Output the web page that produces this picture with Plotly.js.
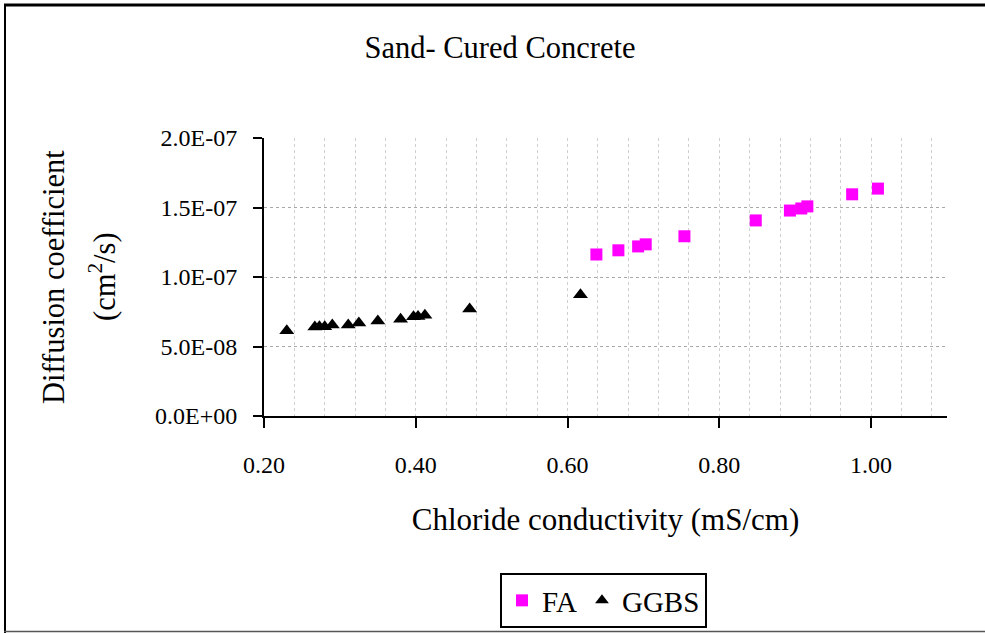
<!DOCTYPE html>
<html>
<head>
<meta charset="utf-8">
<script src="https://cdn.plot.ly/plotly-3.0.1.min.js"></script>
<style>
  html, body { margin: 0; padding: 0; background: #ffffff; }
  #chart { width: 985px; height: 633px; }
</style>
</head>
<body>
<div id="chart"></div>
<script>
// ---- Data ----
const faX   = [0.638, 0.667, 0.693, 0.703, 0.754, 0.848, 0.893, 0.908, 0.916, 0.975, 1.009];
const faY   = [1.162e-7, 1.192e-7, 1.220e-7, 1.235e-7, 1.293e-7, 1.407e-7, 1.478e-7, 1.493e-7, 1.508e-7, 1.595e-7, 1.636e-7];

const ggbsX = [0.230, 0.267, 0.273, 0.280, 0.290, 0.311, 0.325, 0.350, 0.380, 0.397, 0.403, 0.412, 0.471, 0.617];
const ggbsY = [6.13e-8, 6.40e-8, 6.42e-8, 6.42e-8, 6.54e-8, 6.54e-8, 6.69e-8, 6.83e-8, 6.96e-8, 7.14e-8, 7.15e-8, 7.25e-8, 7.70e-8, 8.72e-8];

const seriesNames = ["FA", "GGBS"];

const xTickVals = [0.2, 0.4, 0.6, 0.8, 1.0];
const xTickText = ["0.20", "0.40", "0.60", "0.80", "1.00"];
const yTickVals = [0, 5e-8, 1e-7, 1.5e-7, 2e-7];
const yTickText = ["0.0E+00", "5.0E-08", "1.0E-07", "1.5E-07", "2.0E-07"];

const chartTitle = "Sand- Cured Concrete";
const xTitle = "Chloride conductivity (mS/cm)";
const yTitleLine1 = "Diffusion coefficient";
const yTitleLine2 = "(cm<sup>2</sup>/s)";

// ---- Layout geometry ----
const W = 985, H = 633;
const M = { l: 264, r: 38, t: 138, b: 217 };
const plotW = W - M.l - M.r, plotH = H - M.t - M.b;
const px2x = p => (p - M.l) / plotW;
const py2y = p => (H - M.b - p) / plotH;

const FONT = "'Liberation Serif', 'DejaVu Serif', serif";

const traces = [
  {
    type: "scatter", mode: "markers", name: seriesNames[0],
    x: faX, y: faY,
    marker: { symbol: "square", size: 12, color: "#ff00ff" }
  },
  {
    type: "scatter", mode: "markers", name: seriesNames[1],
    x: ggbsX, y: ggbsY,
    marker: { symbol: "triangle-up", size: 13, color: "#000000" }
  }
];

const layout = {
  width: W, height: H,
  margin: M,
  paper_bgcolor: "#ffffff",
  plot_bgcolor: "#ffffff",
  font: { family: FONT, color: "#000000", size: 24 },
  showlegend: true,
  title: {
    text: chartTitle,
    font: { family: FONT, size: 30.5, color: "#000000" },
    x: 500 / W, xanchor: "center", xref: "container",
    y: 1 - 47 / H, yanchor: "middle", yref: "container"
  },
  xaxis: {
    range: [0.2, 1.1],
    tickmode: "array", tickvals: xTickVals, ticktext: xTickText,
    ticks: "outside", ticklen: 10, tickwidth: 2, tickcolor: "#000000",
    ticklabelstandoff: 16,
    tickfont: { family: FONT, size: 24, color: "#000000" },
    showline: true, linecolor: "#000000", linewidth: 2,
    showgrid: true, gridcolor: "#cfcfcf", gridwidth: 1, griddash: "dot",
    minor: { tick0: 0.2, dtick: 0.04, showgrid: true, gridcolor: "#cfcfcf", gridwidth: 1, griddash: "dot", ticks: "" },
    zeroline: false,
    title: { text: xTitle, font: { family: FONT, size: 31, color: "#000000" }, standoff: 32 }
  },
  yaxis: {
    range: [0, 2e-7],
    tickmode: "array", tickvals: yTickVals, ticktext: yTickText,
    ticks: "outside", ticklen: 9, tickwidth: 2, tickcolor: "#000000",
    ticklabelstandoff: 11,
    tickfont: { family: FONT, size: 24, color: "#000000" },
    showline: true, linecolor: "#000000", linewidth: 2,
    showgrid: true, gridcolor: "#a8a8a8", gridwidth: 1, griddash: "dot",
    zeroline: false
  },
  legend: {
    orientation: "h",
    xref: "container", yref: "container",
    x: 603.5 / W, xanchor: "center",
    y: 1 - 573 / H, yanchor: "top",
    bordercolor: "#000000", borderwidth: 2,
    bgcolor: "#ffffff",
    font: { family: FONT, size: 29, color: "#000000" },
    itemsizing: "constant"
  },
  annotations: [
    {
      text: yTitleLine1, xref: "paper", yref: "paper",
      x: px2x(54), y: 0.5, xanchor: "center", yanchor: "middle",
      textangle: -90, showarrow: false,
      font: { family: FONT, size: 30.5, color: "#000000" }
    },
    {
      text: yTitleLine2, xref: "paper", yref: "paper",
      x: px2x(102), y: 0.5, xanchor: "center", yanchor: "middle",
      textangle: -90, showarrow: false,
      font: { family: FONT, size: 30.5, color: "#000000" }
    }
  ],
  shapes: [
    { type: "line", xref: "paper", yref: "paper", x0: px2x(4), x1: px2x(990), y0: py2y(5), y1: py2y(5), line: { color: "#000000", width: 3 } },
    { type: "line", xref: "paper", yref: "paper", x0: px2x(5), x1: px2x(5), y0: py2y(4), y1: py2y(640), line: { color: "#000000", width: 2 } },
    { type: "line", xref: "paper", yref: "paper", x0: px2x(4), x1: px2x(990), y0: py2y(631.5), y1: py2y(631.5), line: { color: "#555555", width: 1.5 } }
  ]
};

Plotly.newPlot("chart", traces, layout, { displayModeBar: false, staticPlot: true });
</script>
</body>
</html>
